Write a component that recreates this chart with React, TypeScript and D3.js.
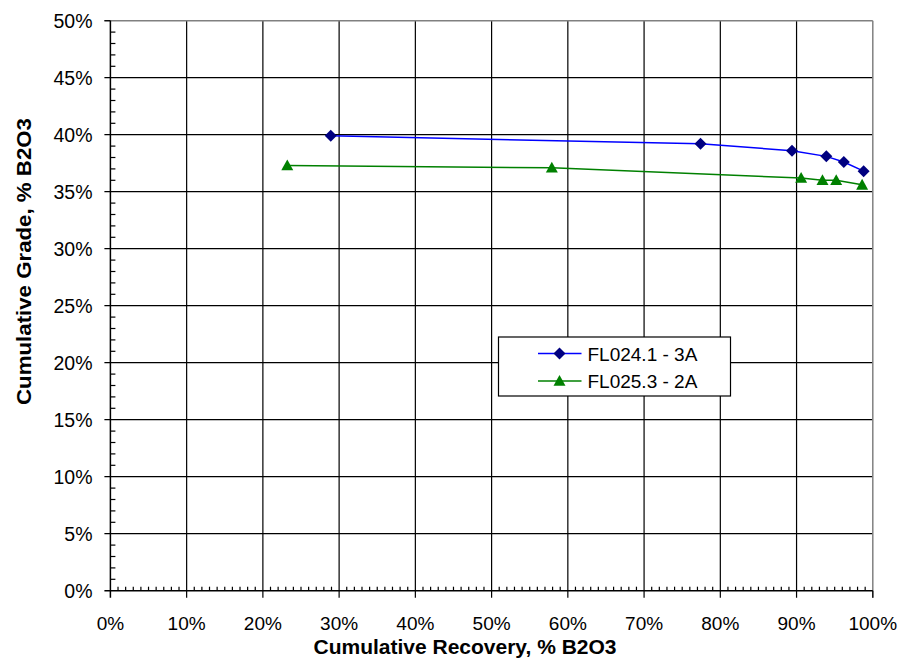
import React from "react";
import * as d3 from "d3";

const seriesNames = ["FL024.1 - 3A", "FL025.3 - 2A"];
const recoveryA = [28.9, 77.4, 89.4, 93.9, 96.2, 98.8];
const gradeA = [39.9, 39.2, 38.6, 38.1, 37.6, 36.8];
const recoveryB = [23.2, 57.9, 90.6, 93.4, 95.2, 98.6];
const gradeB = [37.3, 37.1, 36.2, 36.0, 36.0, 35.6];
const xTicks = [0, 10, 20, 30, 40, 50, 60, 70, 80, 90, 100];
const yTicks = [0, 5, 10, 15, 20, 25, 30, 35, 40, 45, 50];
const xTitle = "Cumulative Recovery, % B2O3";
const yTitle = "Cumulative Grade, % B2O3";

const W = 901;
const H = 660;
const L = 110.4, R = 872.8, T = 20.7, B = 590.7;
const FONT = "'Liberation Sans', Arial, sans-serif";

export default function App() {
  const x = d3.scaleLinear().domain([0, 100]).range([L, R]);
  const y = d3.scaleLinear().domain([0, 50]).range([B, T]);
  const line = d3
    .line<[number, number]>()
    .x((d) => x(d[0]))
    .y((d) => y(d[1]));
  const dataA: [number, number][] = recoveryA.map((r, i) => [r, gradeA[i]]);
  const dataB: [number, number][] = recoveryB.map((r, i) => [r, gradeB[i]]);
  const xMinor = d3.range(0, 101, 1).filter((v) => v % 10 !== 0);
  const yMinor = d3.range(0, 51, 1).filter((v) => v % 5 !== 0);

  const diamond = (cx: number, cy: number, s = 6) =>
    `M${cx},${cy - s}L${cx + s},${cy}L${cx},${cy + s}L${cx - s},${cy}Z`;
  const triangle = (cx: number, cy: number, s = 6) =>
    `M${cx},${cy - s}L${cx + s},${cy + s * 0.8}L${cx - s},${cy + s * 0.8}Z`;

  const legX = 498.5, legY = 337, legW = 232, legH = 59;
  const rowY = [353.5, 381];

  return (
    <svg
      width={W}
      height={H}
      style={{ position: "absolute", left: 0, top: 0, background: "#fff" }}
      fontFamily={FONT}
    >
      <rect x={0} y={0} width={W} height={H} fill="#fff" />
      {/* grid */}
      {xTicks.slice(1, -1).map((t) => (
        <line key={"gx" + t} x1={x(t)} x2={x(t)} y1={T} y2={B + 7} stroke="#000" strokeWidth={1.2} />
      ))}
      {yTicks.slice(1, -1).map((t) => (
        <line key={"gy" + t} x1={L - 6} x2={R} y1={y(t)} y2={y(t)} stroke="#000" strokeWidth={1.2} />
      ))}
      {/* plot border gray top/right */}
      <line x1={L - 6} x2={R} y1={T} y2={T} stroke="#808080" strokeWidth={1.5} />
      <line x1={R} x2={R} y1={T} y2={B + 7} stroke="#808080" strokeWidth={1.5} />
      <line x1={R} x2={R} y1={B} y2={B + 7} stroke="#000" strokeWidth={1.2} />
      <line x1={L - 6} x2={L} y1={T} y2={T} stroke="#000" strokeWidth={1.2} />
      {/* axes */}
      <line x1={L} x2={L} y1={T} y2={B + 7} stroke="#000" strokeWidth={1.5} />
      <line x1={L - 6} x2={R} y1={B} y2={B} stroke="#000" strokeWidth={1.5} />
      {xMinor.map((t) => (
        <line key={"xm" + t} x1={x(t)} x2={x(t)} y1={B} y2={B - 4} stroke="#000" strokeWidth={1.2} />
      ))}
      {yMinor.map((t) => (
        <line key={"ym" + t} x1={L} x2={L + 5} y1={y(t)} y2={y(t)} stroke="#000" strokeWidth={1.2} />
      ))}
      {/* tick labels */}
      {xTicks.map((t) => (
        <text key={"xl" + t} x={x(t)} y={630} textAnchor="middle" fontSize={19} fill="#000">
          {t + "%"}
        </text>
      ))}
      {yTicks.map((t) => (
        <text key={"yl" + t} x={92.5} y={y(t) + 7} textAnchor="end" fontSize={19.5} fill="#000">
          {t + "%"}
        </text>
      ))}
      {/* titles */}
      <text x={465} y={654} textAnchor="middle" fontSize={19.5} fontWeight="bold" fill="#000"
        textLength={303} lengthAdjust="spacingAndGlyphs">
        {xTitle}
      </text>
      <text
        transform={`translate(31,261.5) rotate(-90)`}
        textAnchor="middle"
        fontSize={19.5}
        fontWeight="bold"
        fill="#000"
        textLength={287}
        lengthAdjust="spacingAndGlyphs"
      >
        {yTitle}
      </text>
      {/* series */}
      <path d={line(dataA) || ""} fill="none" stroke="#0000FF" strokeWidth={1.5} />
      <path d={line(dataB) || ""} fill="none" stroke="#008000" strokeWidth={1.5} />
      {dataA.map((d, i) => (
        <path key={"ma" + i} d={diamond(x(d[0]), y(d[1]))} fill="#000080" />
      ))}
      {dataB.map((d, i) => (
        <path key={"mb" + i} d={triangle(x(d[0]), y(d[1]))} fill="#008000" />
      ))}
      {/* legend */}
      <rect x={legX} y={legY} width={legW} height={legH} fill="#fff" stroke="#000" strokeWidth={1.2} />
      <line x1={538} x2={581.5} y1={rowY[0]} y2={rowY[0]} stroke="#0000FF" strokeWidth={1.5} />
      <path d={diamond(559.5, rowY[0])} fill="#000080" />
      <text x={587.5} y={rowY[0] + 7} fontSize={19} fill="#000">{seriesNames[0]}</text>
      <line x1={538} x2={581.5} y1={rowY[1]} y2={rowY[1]} stroke="#008000" strokeWidth={1.5} />
      <path d={triangle(559.5, rowY[1])} fill="#008000" />
      <text x={587.5} y={rowY[1] + 7} fontSize={19} fill="#000">{seriesNames[1]}</text>
    </svg>
  );
}
